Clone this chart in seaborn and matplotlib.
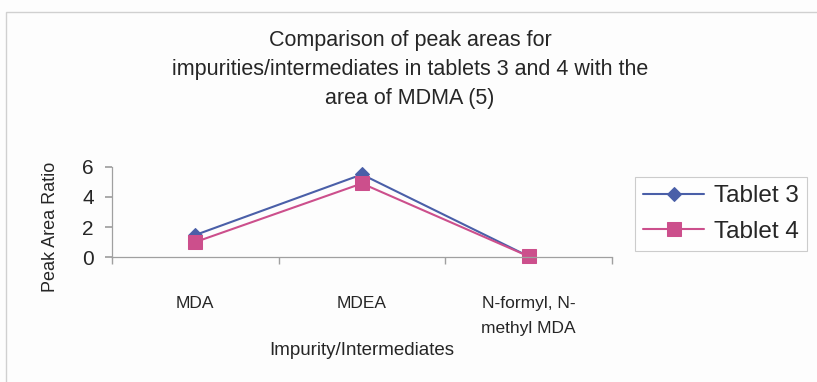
import matplotlib
matplotlib.use("Agg")
import matplotlib.pyplot as plt
import seaborn as sns
import pandas as pd
from matplotlib.patches import Rectangle
from matplotlib.ticker import FixedLocator

categories = ["MDA", "MDEA", "N-formyl, N-\nmethyl MDA"]
tablet3 = [1.47, 5.5, 0.05]
tablet4 = [1.0, 4.9, 0.05]
series_names = ["Tablet 3", "Tablet 4"]
y_ticks = [0, 2, 4, 6]

title = ("Comparison of peak areas for\n"
         "impurities/intermediates in tablets 3 and 4 with the\n"
         "area of MDMA (5)")

sns.set_theme(style="white")
plt.rcParams["font.family"] = ["Liberation Sans", "DejaVu Sans"]

df = pd.DataFrame({
    "x": list(range(len(categories))) * 2,
    "value": tablet3 + tablet4,
    "series": [series_names[0]] * 3 + [series_names[1]] * 3,
})

fig = plt.figure(figsize=(8.17, 3.82), dpi=100)
fig.patch.set_facecolor("#fdfdfd")
ax = fig.add_axes([0.137, 0.327, 0.612, 0.236])

palette = {"Tablet 3": "#4a5fa8", "Tablet 4": "#cc4f8c"}
markers = {"Tablet 3": "D", "Tablet 4": "s"}
sizes = {"Tablet 3": 7.5, "Tablet 4": 10}
for name in series_names:
    sub = df[df["series"] == name]
    sns.lineplot(data=sub, x="x", y="value", ax=ax, color=palette[name],
                 marker=markers[name], markersize=sizes[name],
                 markeredgecolor=palette[name], linewidth=1.5,
                 label=name, clip_on=False, sort=False)

ax.set_xlim(-0.5, 2.5)
ax.set_ylim(0, 6)
ax.set_yticks(y_ticks)
ax.set_xticks(range(len(categories)))
ax.set_xticklabels(categories, fontsize=12.5, linespacing=1.85)
ax.xaxis.set_minor_locator(FixedLocator([-0.5, 0.5, 1.5, 2.5]))
ax.tick_params(axis="x", which="major", length=0, pad=28)
ax.tick_params(axis="x", which="minor", length=5, color="#a0a0a0", direction="out", bottom=True)
ax.tick_params(axis="y", length=5, color="#a0a0a0", direction="out", left=True,
               labelsize=15, pad=8)
for s in ["top", "right"]:
    ax.spines[s].set_visible(False)
for s in ["left", "bottom"]:
    ax.spines[s].set_color("#a0a0a0")
    ax.spines[s].set_linewidth(0.9)
ax.set_facecolor("none")

ax.set_xlabel("Impurity/Intermediates", fontsize=13.5)
ax.xaxis.set_label_coords(0.5, -0.94)
ax.set_ylabel("Peak Area Ratio", fontsize=13)
ax.yaxis.set_label_coords(-0.105, 0.33)

fig.text(0.502, 0.922, title, ha="center", va="top", fontsize=15.5,
         linespacing=1.5)

leg = ax.legend(loc="upper left", bbox_to_anchor=(0.777, 0.537),
                bbox_transform=fig.transFigure, frameon=True, fontsize=17.5,
                handlelength=2.5, borderpad=0.35, labelspacing=0.55,
                handletextpad=0.4, borderaxespad=0, fancybox=False)
leg.get_frame().set_edgecolor("#c0c0c0")
leg.get_frame().set_linewidth(0.8)

fig.patches.append(Rectangle((6 / 817, -0.01), 1.0, 1 - 12 / 382 + 0.01,
                             transform=fig.transFigure, fill=False,
                             edgecolor="#d0d0d0", linewidth=1.0))

fig.savefig("out.png", dpi=100, facecolor=fig.get_facecolor())
